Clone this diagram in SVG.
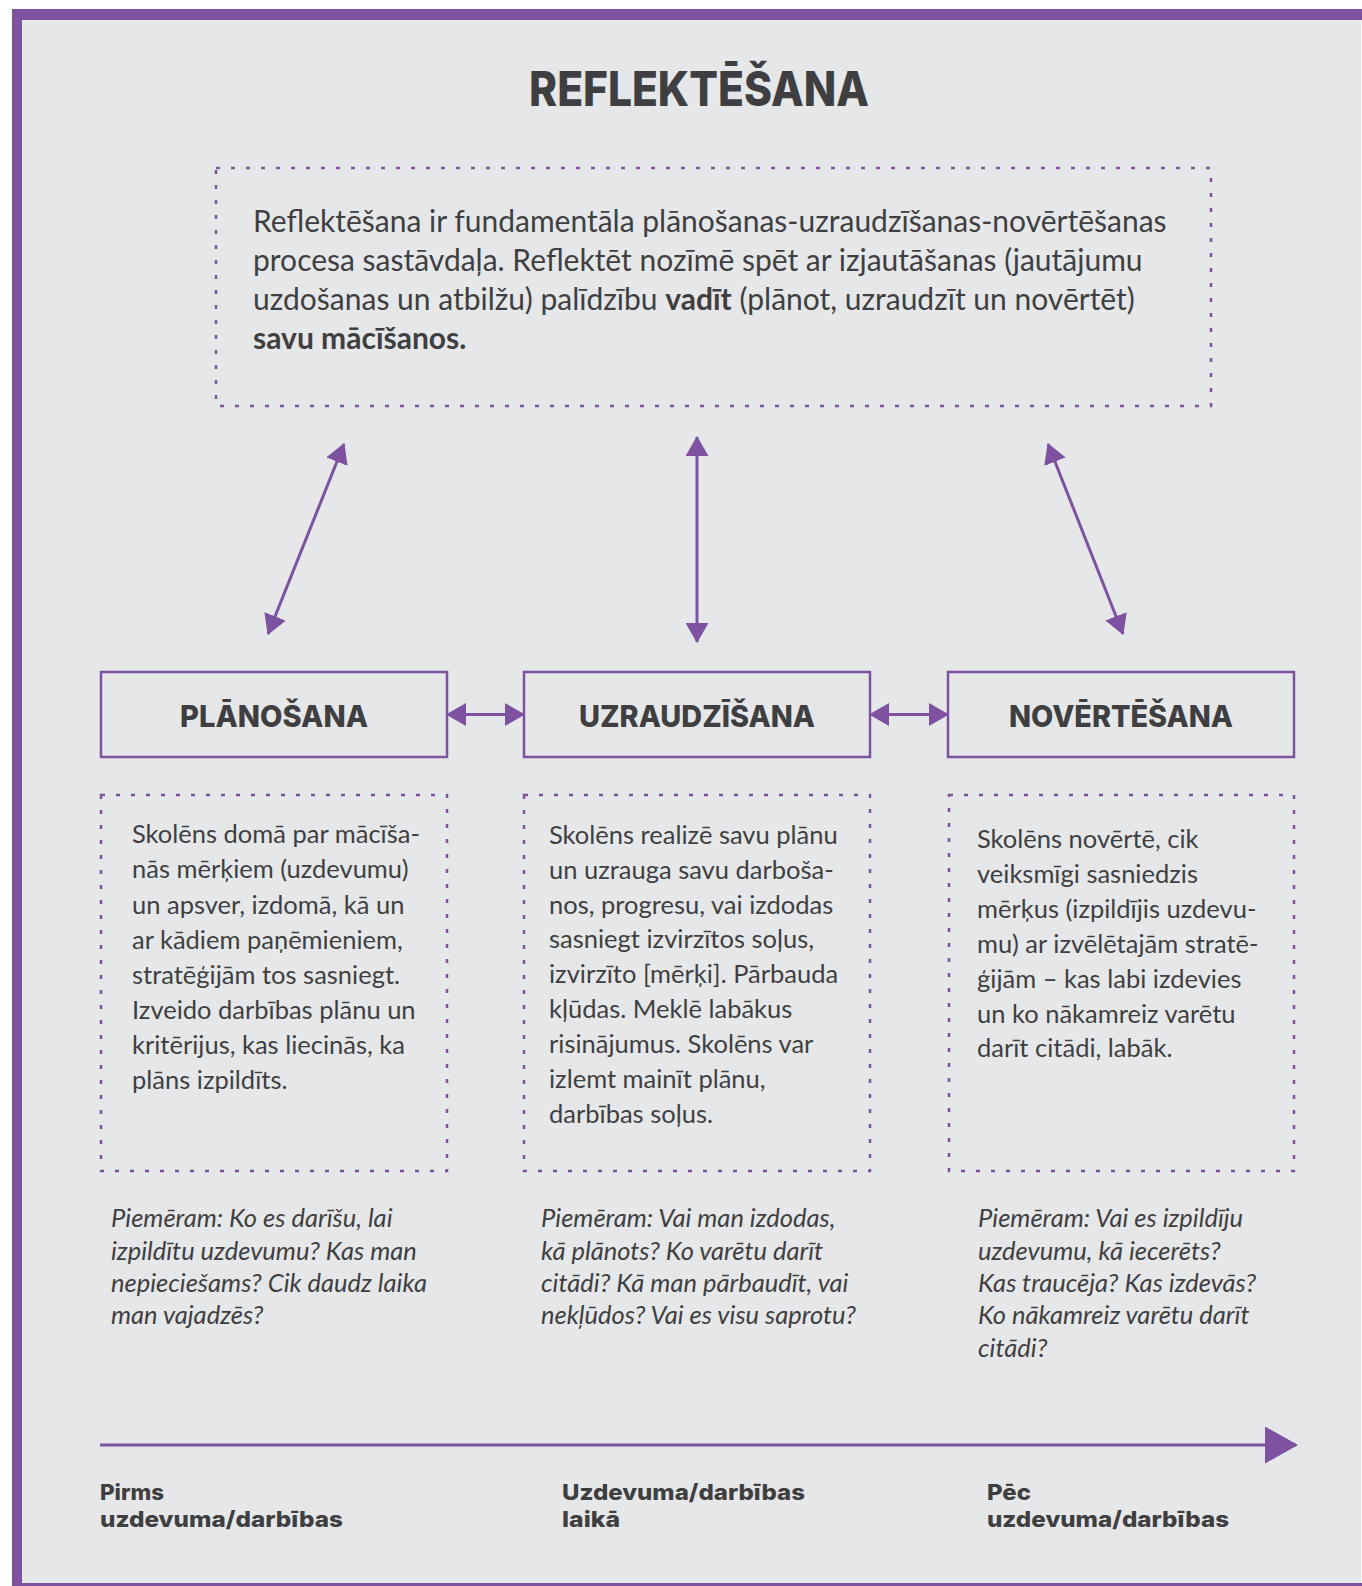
<svg xmlns="http://www.w3.org/2000/svg" width="1362" height="1586" viewBox="0 0 1362 1586">
<defs>
<marker id="ah" markerWidth="20" markerHeight="23" refX="19" refY="11.5" orient="auto-start-reverse" markerUnits="userSpaceOnUse"><path d="M0,0 L20,11.5 L0,23 z" fill="#7e52a0"/></marker>
<marker id="bigah" markerWidth="33" markerHeight="37" refX="31" refY="18.5" orient="auto" markerUnits="userSpaceOnUse"><path d="M0,0 L33,18.5 L0,37 z" fill="#7e52a0"/></marker>
</defs>
<style>
.body{font-family:Lato,"Noto Sans",sans-serif;font-size:25.5px;fill:#3f3f41}
.intro{font-size:30px}
.ex{font-style:italic;font-size:25.5px}
.b{font-weight:bold}
.head{font-family:Inter,"DejaVu Sans",sans-serif;font-weight:800;fill:#3f3f41}
.lbl{font-size:30px}
.small{font-size:22px;font-weight:800}
.dot{fill:none;stroke:#7e52a0;stroke-width:2.5;stroke-dasharray:4 11}
.box{fill:none;stroke:#7e52a0;stroke-width:2.5}
.conn{stroke:#7e52a0;stroke-width:3;fill:none}
</style>
<rect x="0" y="0" width="1362" height="1586" fill="#ffffff"/>
<rect x="12" y="9" width="1349" height="1577" fill="#e6e7e9"/>
<rect x="12" y="9" width="1350" height="11" fill="#7e52a0"/>
<rect x="12" y="9" width="10" height="1577" fill="#7e52a0"/>
<rect x="12" y="1583" width="1350" height="3" fill="#7e52a0"/>

<g id="title">
<text class="head" x="699" y="106" font-size="48" text-anchor="middle" textLength="340" lengthAdjust="spacingAndGlyphs">REFLEKTĒŠANA</text>
</g>

<g id="intro">
<rect class="dot" x="216" y="168" width="995" height="238"/>
<text class="body intro" x="253" y="232">Reflektēšana ir fundamentāla plānošanas-uzraudzīšanas-novērtēšanas</text>
<text class="body intro" x="253" y="271">procesa sastāvdaļa. Reflektēt nozīmē spēt ar izjautāšanas (jautājumu</text>
<text class="body intro" x="253" y="310">uzdošanas un atbilžu) palīdzību <tspan class="b">vadīt</tspan> (plānot, uzraudzīt un novērtēt)</text>
<text class="body intro b" x="253" y="349">savu mācīšanos.</text>
</g>

<g id="planosana">
<rect class="box" x="101" y="672" width="346" height="85"/>
<text class="head lbl" x="274" y="727" text-anchor="middle" textLength="188" lengthAdjust="spacingAndGlyphs">PLĀNOŠANA</text>
</g>
<g id="uzraudzisana">
<rect class="box" x="524" y="672" width="346" height="85"/>
<text class="head lbl" x="697" y="727" text-anchor="middle" textLength="236" lengthAdjust="spacingAndGlyphs">UZRAUDZĪŠANA</text>
</g>
<g id="novertesana">
<rect class="box" x="948" y="672" width="346" height="85"/>
<text class="head lbl" x="1121" y="727" text-anchor="middle" textLength="224" lengthAdjust="spacingAndGlyphs">NOVĒRTĒŠANA</text>
</g>

<g id="planosana-desc">
<rect class="dot" x="101" y="795" width="346" height="376"/>
<text class="body" x="132" y="843">Skolēns domā par mācīša-</text>
<text class="body" x="132" y="878">nās mērķiem (uzdevumu)</text>
<text class="body" x="132" y="914">un apsver, izdomā, kā un</text>
<text class="body" x="132" y="949">ar kādiem paņēmieniem,</text>
<text class="body" x="132" y="984">stratēģijām tos sasniegt.</text>
<text class="body" x="132" y="1019">Izveido darbības plānu un</text>
<text class="body" x="132" y="1054">kritērijus, kas liecinās, ka</text>
<text class="body" x="132" y="1089">plāns izpildīts.</text>
</g>
<g id="uzraudzisana-desc">
<rect class="dot" x="524" y="795" width="346" height="376"/>
<text class="body" x="549" y="844">Skolēns realizē savu plānu</text>
<text class="body" x="549" y="879">un uzrauga savu darboša-</text>
<text class="body" x="549" y="914">nos, progresu, vai izdodas</text>
<text class="body" x="549" y="948">sasniegt izvirzītos soļus,</text>
<text class="body" x="549" y="983">izvirzīto [mērķi]. Pārbauda</text>
<text class="body" x="549" y="1018">kļūdas. Meklē labākus</text>
<text class="body" x="549" y="1053">risinājumus. Skolēns var</text>
<text class="body" x="549" y="1088">izlemt mainīt plānu,</text>
<text class="body" x="549" y="1123">darbības soļus.</text>
</g>
<g id="novertesana-desc">
<rect class="dot" x="949" y="795" width="345" height="376"/>
<text class="body" x="977" y="848">Skolēns novērtē, cik</text>
<text class="body" x="977" y="883">veiksmīgi sasniedzis</text>
<text class="body" x="977" y="918">mērķus (izpildījis uzdevu-</text>
<text class="body" x="977" y="953">mu) ar izvēlētajām stratē-</text>
<text class="body" x="977" y="988">ģijām – kas labi izdevies</text>
<text class="body" x="977" y="1023">un ko nākamreiz varētu</text>
<text class="body" x="977" y="1057">darīt citādi, labāk.</text>
</g>

<g id="examples">
<text class="body ex" x="111" y="1227">Piemēram: Ko es darīšu, lai</text>
<text class="body ex" x="111" y="1260">izpildītu uzdevumu? Kas man</text>
<text class="body ex" x="111" y="1292">nepieciešams? Cik daudz laika</text>
<text class="body ex" x="111" y="1324">man vajadzēs?</text>
<text class="body ex" x="541" y="1227">Piemēram: Vai man izdodas,</text>
<text class="body ex" x="541" y="1260">kā plānots? Ko varētu darīt</text>
<text class="body ex" x="541" y="1292">citādi? Kā man pārbaudīt, vai</text>
<text class="body ex" x="541" y="1324">nekļūdos? Vai es visu saprotu?</text>
<text class="body ex" x="978" y="1227">Piemēram: Vai es izpildīju</text>
<text class="body ex" x="978" y="1260">uzdevumu, kā iecerēts?</text>
<text class="body ex" x="978" y="1292">Kas traucēja? Kas izdevās?</text>
<text class="body ex" x="978" y="1324">Ko nākamreiz varētu darīt</text>
<text class="body ex" x="978" y="1357">citādi?</text>
</g>

<g id="timeline-labels">
<text class="head small" x="100" y="1500" textLength="64" lengthAdjust="spacingAndGlyphs">Pirms</text>
<text class="head small" x="100" y="1527" textLength="243" lengthAdjust="spacingAndGlyphs">uzdevuma/darbības</text>
<text class="head small" x="562" y="1500" textLength="243" lengthAdjust="spacingAndGlyphs">Uzdevuma/darbības</text>
<text class="head small" x="562" y="1527" textLength="58" lengthAdjust="spacingAndGlyphs">laikā</text>
<text class="head small" x="987" y="1500" textLength="44" lengthAdjust="spacingAndGlyphs">Pēc</text>
<text class="head small" x="987" y="1527" textLength="242" lengthAdjust="spacingAndGlyphs">uzdevuma/darbības</text>
</g>

<g id="connectors">
<line class="conn" x1="344" y1="444" x2="268" y2="634" marker-start="url(#ah)" marker-end="url(#ah)"/>
<line class="conn" x1="697" y1="437" x2="697" y2="642" marker-start="url(#ah)" marker-end="url(#ah)"/>
<line class="conn" x1="1048" y1="444" x2="1123" y2="634" marker-start="url(#ah)" marker-end="url(#ah)"/>
<line class="conn" x1="447" y1="714.5" x2="524" y2="714.5" marker-start="url(#ah)" marker-end="url(#ah)"/>
<line class="conn" x1="870" y1="714.5" x2="948" y2="714.5" marker-start="url(#ah)" marker-end="url(#ah)"/>
<line class="conn" x1="100" y1="1445" x2="1296" y2="1445" stroke-width="4.5" marker-end="url(#bigah)"/>
</g>
</svg>
